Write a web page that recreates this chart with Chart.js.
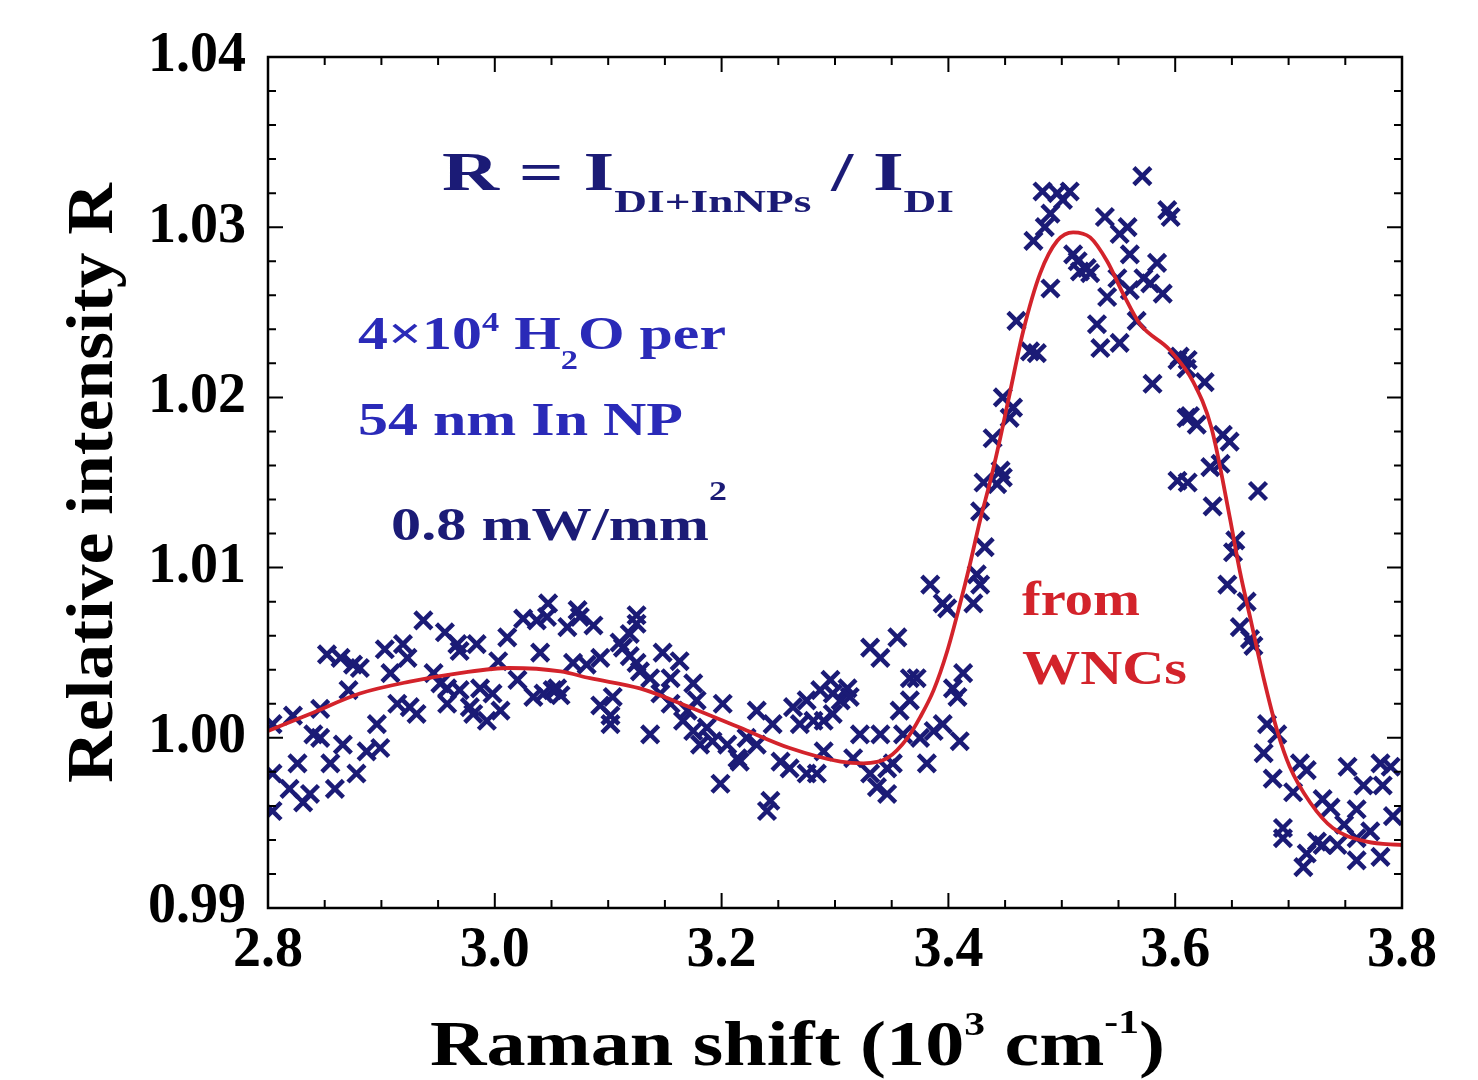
<!DOCTYPE html>
<html><head><meta charset="utf-8">
<script src="https://cdn.jsdelivr.net/npm/chart.js@4.4.1/dist/chart.umd.min.js"></script>
<style>html,body{margin:0;padding:0;background:#fff}#wrap{width:1478px;height:1080px;position:relative;background:#fff}</style>
</head><body><div id="wrap"><canvas id="c" width="1478" height="1080"></canvas></div>
<script>
// Measured data (Raman shift in 10^3 cm^-1, relative intensity R)
const ramanShift = [
2.804,2.804,2.804,2.819,2.822,2.826,2.831,2.837,2.840,2.846,2.846,2.852,2.855,2.859,2.864,2.866,2.871,2.875,2.878,2.881,
2.887,2.896,2.899,2.903,2.908,2.914,2.919,2.923,2.925,2.931,2.937,2.946,2.952,2.956,2.958,2.958,2.967,2.969,2.969,2.978,
2.981,2.984,2.987,2.993,2.998,3.003,3.005,3.011,3.020,3.025,3.034,3.037,3.040,3.046,3.047,3.051,
3.043,3.055,3.058,3.064,3.069,3.073,3.075,3.081,3.087,3.093,3.093,3.102,3.102,3.104,3.110,3.113,3.119,3.119,3.125,3.125,
3.125,3.128,3.137,3.137,3.146,3.148,3.155,3.155,3.163,3.166,3.170,3.175,3.175,3.178,3.181,3.187,3.192,3.199,3.201,3.205,
3.214,3.216,3.222,3.231,3.231,3.240,3.243,3.245,3.252,3.260,3.263,3.269,3.275,3.275,3.281,3.284,3.287,3.290,3.290,3.296,
3.298,3.298,
3.305,3.311,3.313,3.316,3.322,3.331,3.331,3.337,3.340,3.340,3.346,3.346,3.351,3.355,3.357,3.360,3.366,3.366,3.372,3.375,
3.381,3.384,3.387,3.395,3.395,3.399,3.404,3.408,3.410,3.413,3.422,3.425,3.428,3.428,3.431,3.432,
3.439,3.443,3.446,3.448,3.448,3.454,3.457,3.460,3.472,3.475,3.478,3.483,3.485,3.490,3.490,3.496,3.501,3.507,3.510,3.514,
3.516,3.522,3.525,3.531,3.534,3.538,3.540,3.549,3.551,3.551,3.558,3.560,3.560,3.566,3.571,3.572,3.578,3.580,3.584,3.589,
3.593,3.596,3.602,3.602,3.610,3.610,
3.604,3.611,3.626,3.613,3.619,3.642,3.648,3.631,3.640,3.611,3.633,3.673,3.653,3.651,3.646,3.663,3.657,3.666,3.669,3.681,
3.690,3.678,3.686,3.710,3.716,3.704,3.730,3.737,3.752,3.766,3.781,3.790,3.783,3.760,3.792,3.695,3.695,3.725,3.730,3.743,
3.760,3.772,3.716,3.713,3.760,3.781,3.749
];
const relIntensity = [
1.0008,0.9979,0.9957,0.9970,1.0013,0.9985,0.9962,0.9967,1.0002,1.0017,1.0000,1.0049,0.9985,0.9970,1.0047,0.9996,1.0028,1.0043,0.9979,1.0041,
0.9992,1.0008,0.9994,1.0052,1.0038,1.0020,1.0055,1.0047,1.0018,1.0014,1.0069,1.0038,1.0032,1.0062,1.0029,1.0020,1.0055,1.0051,1.0028,1.0018,
1.0014,1.0055,1.0029,1.0010,1.0026,1.0045,1.0016,1.0059,1.0034,1.0070,1.0024,1.0069,1.0050,1.0071,1.0079,1.0028,
1.0026,1.0029,1.0025,1.0065,1.0044,1.0075,1.0071,1.0043,1.0066,1.0047,1.0019,1.0013,1.0008,1.0024,1.0056,1.0053,1.0061,1.0048,1.0072,1.0067,
1.0044,1.0039,1.0035,1.0002,1.0026,1.0050,1.0035,1.0020,1.0045,1.0010,1.0016,1.0032,1.0004,1.0022,0.9996,1.0006,0.9998,0.9973,1.0020,0.9996,
0.9988,0.9986,1.0000,1.0016,0.9996,0.9957,0.9963,1.0008,0.9986,0.9982,1.0018,1.0008,1.0022,0.9979,1.0010,0.9979,1.0028,1.0010,0.9992,1.0034,
1.0026,1.0014,
1.0022,1.0029,1.0024,0.9988,1.0002,1.0053,0.9979,0.9971,1.0047,1.0002,0.9982,0.9967,0.9985,1.0059,1.0016,1.0002,1.0035,1.0022,1.0035,1.0000,
0.9985,1.0090,1.0004,1.0079,1.0008,1.0076,1.0029,1.0024,0.9998,1.0038,1.0079,1.0096,1.0090,1.0133,1.0150,1.0112,
1.0176,1.0149,1.0157,1.0200,1.0153,1.0188,1.0194,1.0245,1.0227,1.0292,1.0226,1.0321,1.0300,1.0308,1.0264,1.0320,1.0316,1.0321,1.0284,1.0280,
1.0274,1.0276,1.0273,1.0243,1.0229,1.0306,1.0259,1.0270,1.0296,1.0232,1.0300,1.0284,1.0263,1.0245,1.0330,1.0270,1.0267,1.0208,1.0279,1.0261,
1.0310,1.0306,1.0222,1.0151,1.0217,1.0188,
1.0224,1.0222,1.0209,1.0189,1.0184,1.0178,1.0174,1.0159,1.0161,1.0150,1.0136,1.0145,1.0116,1.0109,1.0090,1.0080,1.0065,1.0058,1.0054,1.0008,
1.0002,0.9991,0.9976,0.9985,0.9981,0.9968,0.9964,0.9959,0.9983,0.9972,0.9985,0.9983,0.9972,0.9958,0.9954,0.9947,0.9941,0.9939,0.9937,0.9937,
0.9941,0.9945,0.9932,0.9924,0.9928,0.9930,0.9949
];
// Fitted curve ("from WNCs")
const fitX = [2.800,2.837,2.881,2.925,2.969,3.013,3.058,3.084,3.128,3.172,3.216,3.260,3.305,3.325,3.346,3.364,3.375,3.387,3.399,3.410,
3.419,3.428,3.437,3.446,3.454,3.466,3.481,3.496,3.510,3.525,3.540,3.554,3.569,3.595,3.616,3.632,3.648,3.657,3.666,3.678,
3.690,3.701,3.719,3.739,3.769,3.800];
const fitY = [1.0004,1.0014,1.0026,1.0033,1.0038,1.0041,1.0039,1.0035,1.0029,1.0018,1.0006,0.9994,0.9986,0.9985,0.9988,1.0000,1.0012,1.0028,1.0051,1.0078,
1.0102,1.0128,1.0151,1.0177,1.0202,1.0239,1.0273,1.0292,1.0297,1.0294,1.0280,1.0261,1.0243,1.0228,1.0209,1.0182,1.0130,1.0098,1.0071,1.0035,
1.0004,0.9983,0.9962,0.9947,0.9939,0.9937];
const xTickValues = [2.8,3.0,3.2,3.4,3.6,3.8];
const yTickValues = [0.99,1.00,1.01,1.02,1.03,1.04];
const xMinorStep = 0.05;
const yMinorStep = 0.002;

const FONT = '"Liberation Serif","Times New Roman",serif';
const NAVY = '#1b1b76';
const BLUE = '#2a2ab8';
const RED = '#d3232b';

function drawRich(ctx, segs, x, y, targetW, color, align) {
  ctx.save();
  ctx.fillStyle = color;
  ctx.textBaseline = 'alphabetic';
  ctx.textAlign = 'left';
  let w = 0;
  const ws = segs.map(s => { ctx.font = 'bold ' + s[1] + 'px ' + FONT; const m = ctx.measureText(s[0]).width; w += m; return m; });
  const k = targetW ? targetW / w : 1;
  ctx.translate(x, y);
  ctx.scale(k, 1);
  let cx = align === 'center' ? -w / 2 : 0;
  segs.forEach((s, i) => { ctx.font = 'bold ' + s[1] + 'px ' + FONT; ctx.fillText(s[0], cx, s[2] || 0); cx += ws[i]; });
  ctx.restore();
}

const framePlugin = {
  id: 'frame',
  afterDatasetsDraw(chart) {
    const {ctx, chartArea: a, scales: {x, y}} = chart;
    ctx.save();
    ctx.strokeStyle = '#000';
    ctx.lineWidth = 2.5;
    ctx.strokeRect(a.left, a.top, a.right - a.left, a.bottom - a.top);
    ctx.lineWidth = 2;
    ctx.beginPath();
    const nx = Math.round((x.max - x.min) / xMinorStep);
    for (let i = 0; i <= nx; i++) {
      const v = x.min + i * xMinorStep;
      const px = x.getPixelForValue(v);
      const len = (i % 4 === 0) ? 15 : 8;
      ctx.moveTo(px, a.bottom); ctx.lineTo(px, a.bottom - len);
      ctx.moveTo(px, a.top); ctx.lineTo(px, a.top + len);
    }
    const ny = Math.round((y.max - y.min) / yMinorStep);
    for (let i = 0; i <= ny; i++) {
      const v = y.min + i * yMinorStep;
      const py = y.getPixelForValue(v);
      const len = (i % 5 === 0) ? 15 : 8;
      ctx.moveTo(a.left, py); ctx.lineTo(a.left + len, py);
      ctx.moveTo(a.right, py); ctx.lineTo(a.right - len, py);
    }
    ctx.stroke();
    ctx.restore();
  },
  afterDraw(chart) {
    const ctx = chart.ctx;
    drawRich(ctx, [['R = I', 54, 0], ['DI+InNPs', 31, 22], [' / I', 54, 0], ['DI', 31, 22]], 442, 190, 512, NAVY);
    drawRich(ctx, [['4\u00d710', 47, 0], ['4', 27, -18], [' H', 47, 0], ['2', 27, 20], ['O per', 47, 0]], 358, 349, 368, BLUE);
    drawRich(ctx, [['54 nm In NP', 47, 0]], 358, 435, 325, BLUE);
    drawRich(ctx, [['0.8 mW/mm', 47, 0], ['2', 28, -40]], 391, 540, 336, NAVY);
    drawRich(ctx, [['from', 48, 0]], 1022, 615, 118, RED);
    drawRich(ctx, [['WNCs', 48, 0]], 1022, 684, 165, RED);
    drawRich(ctx, [['Raman shift (10', 64, 0], ['3', 34, -30], [' cm', 64, 0], ['-1', 34, -32], [')', 64, 0]], 430, 1065, 735, '#000');
    ctx.save();
    ctx.translate(112, 483);
    ctx.rotate(-Math.PI / 2);
    drawRich(ctx, [['Relative intensity R', 66, 0]], 0, 0, 600, '#000', 'center');
    ctx.restore();
  }
};

const scatterPts = ramanShift.map((v, i) => ({x: v, y: relIntensity[i]}));
const fitPts = fitX.map((v, i) => ({x: v, y: fitY[i]}));

new Chart(document.getElementById('c'), {
  type: 'scatter',
  data: {
    datasets: [
      {type: 'line', data: fitPts, borderColor: RED, borderWidth: 3.8, pointRadius: 0, fill: false,
       cubicInterpolationMode: 'monotone', showLine: true},
      {type: 'scatter', data: scatterPts, pointStyle: 'crossRot', pointRadius: 12, borderWidth: 4.5,
       borderColor: NAVY, backgroundColor: NAVY}
    ]
  },
  options: {
    responsive: false, animation: false, devicePixelRatio: 1,
    layout: {padding: {top: 57, right: 76, left: 0, bottom: 0}},
    plugins: {legend: {display: false}, tooltip: {enabled: false}},
    scales: {
      x: {
        type: 'linear', min: 2.8, max: 3.8,
        grid: {display: false, drawTicks: false}, border: {display: false},
        ticks: {color: '#000', font: {family: FONT, size: 56, weight: 'bold'}, padding: 10, maxRotation: 0,
                callback: v => v.toFixed(1)},
        afterBuildTicks: s => { s.ticks = xTickValues.map(v => ({value: v})); },
        afterFit: s => { s.height = 172; }
      },
      y: {
        type: 'linear', min: 0.99, max: 1.04,
        grid: {display: false, drawTicks: false}, border: {display: false},
        ticks: {color: '#000', font: {family: FONT, size: 56, weight: 'bold'}, padding: 22,
                callback: v => v.toFixed(2)},
        afterBuildTicks: s => { s.ticks = yTickValues.map(v => ({value: v})); },
        afterFit: s => { s.width = 268; }
      }
    }
  },
  plugins: [framePlugin]
});
</script></body></html>
